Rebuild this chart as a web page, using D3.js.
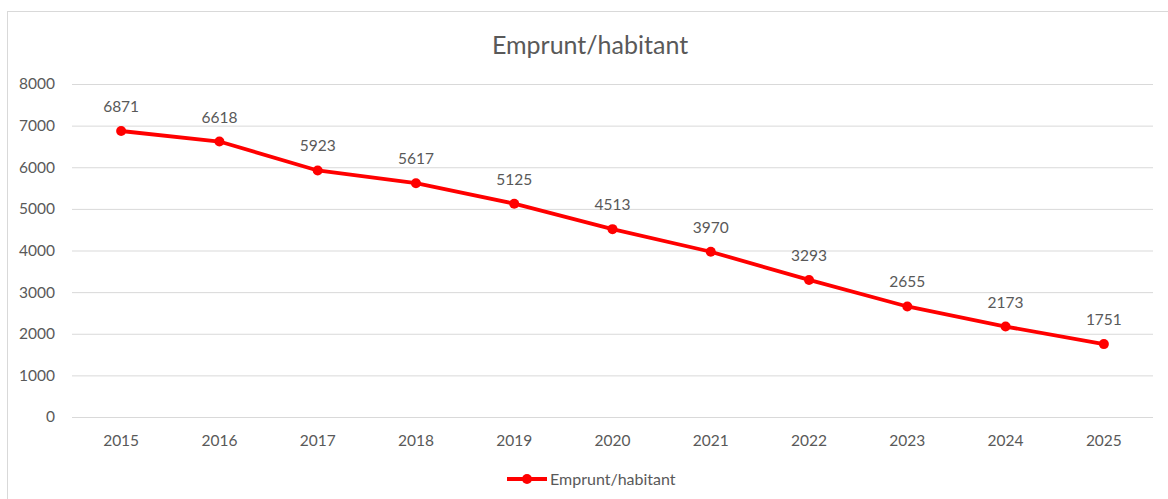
<!DOCTYPE html>
<html><head><meta charset="utf-8">
<script src="https://cdn.jsdelivr.net/npm/d3@7"></script>
<style>body{margin:0;background:#fff;} svg{display:block;font-family:Lato,"Open Sans",sans-serif;}</style>
</head><body>
<svg id="c" width="1168" height="499"></svg>
<script>
const years = ["2015","2016","2017","2018","2019","2020","2021","2022","2023","2024","2025"];
const values = [6871,6618,5923,5617,5125,4513,3970,3293,2655,2173,1751];
const yTicks = [0,1000,2000,3000,4000,5000,6000,7000,8000];
const seriesName = "Emprunt/habitant";
const title = "Emprunt/habitant";

const svg = d3.select("#c");
const gray = "#595959";
svg.append("rect").attr("x",7.5).attr("y",11.5).attr("width",1170).attr("height",500)
  .attr("fill","#fff").attr("stroke","#d9d9d9");

const x = d3.scaleBand().domain(years).range([72,1153]);
const y = d3.scaleLinear().domain([0,8000]).range([417,84]);

svg.append("g").selectAll("line").data(yTicks).join("line")
  .attr("x1",72).attr("x2",1153).attr("y1",d=>y(d)+0.5).attr("y2",d=>y(d)+0.5)
  .attr("stroke","#d9d9d9").attr("stroke-width",1);

svg.append("g").selectAll("text").data(yTicks).join("text")
  .attr("x",55).attr("y",d=>y(d)).attr("dy","0.35em").attr("text-anchor","end")
  .attr("fill",gray).attr("font-size",15.5).text(d=>d);

svg.append("g").selectAll("text").data(years).join("text")
  .attr("x",d=>x(d)+x.bandwidth()/2).attr("y",446).attr("text-anchor","middle")
  .attr("fill",gray).attr("font-size",15.5).text(d=>d);

svg.append("text").attr("x",590).attr("y",54).attr("text-anchor","middle")
  .attr("fill",gray).attr("font-size",25).text(title);

const cx = (d,i)=>x(years[i])+x.bandwidth()/2;
const line = d3.line().x((d,i)=>cx(d,i)).y(d=>y(d));
svg.append("path").datum(values).attr("d",line).attr("fill","none")
  .attr("stroke","#ff0000").attr("stroke-width",3.8).attr("stroke-linejoin","round");
svg.append("g").selectAll("circle").data(values).join("circle")
  .attr("cx",cx).attr("cy",d=>y(d)).attr("r",5).attr("fill","#ff0000");
svg.append("g").selectAll("text").data(values).join("text")
  .attr("x",cx).attr("y",d=>y(d)-19).attr("text-anchor","middle")
  .attr("fill",gray).attr("font-size",15.5).text(d=>d);

const lg = svg.append("g");
lg.append("line").attr("x1",507).attr("x2",547).attr("y1",479).attr("y2",479)
  .attr("stroke","#ff0000").attr("stroke-width",3.8);
lg.append("circle").attr("cx",527).attr("cy",479).attr("r",5).attr("fill","#ff0000");
lg.append("text").attr("x",550).attr("y",479).attr("dy","0.35em").attr("fill",gray)
  .attr("font-size",16).text(seriesName);
</script>
</body></html>
